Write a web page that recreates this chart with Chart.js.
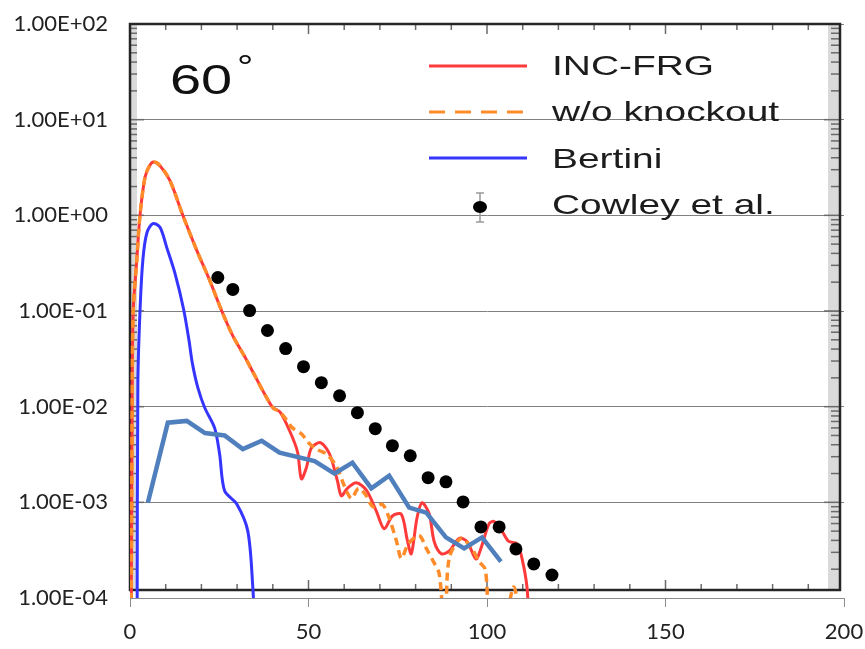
<!DOCTYPE html>
<html>
<head>
<meta charset="utf-8">
<script src="https://cdn.jsdelivr.net/npm/chart.js@4"></script>
<style>
  html, body { margin: 0; padding: 0; background: #fff; }
  #wrap { width: 865px; height: 649px; }
</style>
</head>
<body>
<div id="wrap"><canvas id="c" width="865" height="649"></canvas></div>
<script>
// values (x: energy, y: cross section)
const incX = [0.3, 0.45, 0.6, 0.9, 1.9, 2.8, 4.2, 5.5, 6.6, 8.4, 11.2, 14.8, 18.7, 22.3, 25.7, 28.8, 32, 35, 37.5, 40, 42, 44.7, 46.9, 48, 49.4, 50.8, 53.4, 55.9, 58.1, 59.2, 60.9, 63.4, 66.2, 69, 71.2, 73.5, 76, 77.7, 78.8, 80.4, 81.8, 83.8, 85.2, 87.2, 89.4, 92.2, 94.4, 96.9, 98.3, 100.6, 102, 104.2, 106.1, 108.4, 109.8, 111.2, 111.8]
const incY = [0.00005, 0.0005, 0.01, 0.1, 0.34, 1.0, 2.5, 3.3, 3.6, 3.3, 2.3, 1.0, 0.43, 0.21, 0.1, 0.055, 0.034, 0.021, 0.014, 0.0098, 0.0088, 0.0056, 0.0034, 0.00176, 0.0023, 0.0037, 0.0042, 0.0032, 0.00168, 0.00117, 0.0014, 0.0016, 0.00134, 0.00081, 0.00053, 0.00072, 0.00075, 0.0004, 0.00029, 0.00069, 0.00099, 0.00076, 0.00039, 0.00029, 0.00031, 0.00042, 0.00039, 0.000256, 0.00033, 0.0006, 0.00063, 0.0005, 0.00039, 0.00037, 0.00026, 0.00013, 0.00005]

const woX = [0.3, 0.45, 0.6, 0.9, 1.9, 2.8, 4.2, 5.5, 6.6, 8.4, 11.2, 14.8, 18.7, 22.3, 25.7, 28.8, 32, 35, 37.5, 40, 42, 43.8, 45.5, 48, 50, 52.2, 55, 57.8, 60, 62, 64, 66, 68, 70.7, 72.5, 74.6, 76, 78, 81, 83, 85, 86.6, 87.8, 88.4, 89.4, 92.7, 95.5, 97.8, 99.5, 100.8, 104, 107.5, 109.5]
const woY = [0.00005, 0.0005, 0.01, 0.1, 0.34, 1.0, 2.5, 3.3, 3.6, 3.3, 2.3, 1.0, 0.43, 0.21, 0.1, 0.055, 0.034, 0.021, 0.014, 0.0098, 0.0088, 0.0073, 0.006, 0.0052, 0.0042, 0.0036, 0.0032, 0.0024, 0.0015, 0.0011, 0.0014, 0.0012, 0.0009, 0.00095, 0.0007, 0.0004, 0.00026, 0.00037, 0.00045, 0.00033, 0.00024, 0.00018, 0.00006, 0.00006, 0.00026, 0.00042, 0.00034, 0.00024, 0.0002, 0.00006, 0.00004, 0.00013, 0.00004]

const bertX = [2.0, 2.2, 2.8, 3.6, 4.7, 6.4, 8.4, 10.3, 12.6, 15.0, 16.5, 17.5, 19.0, 20.9, 23.7, 25.1, 26.5, 29.9, 33.0, 34.4, 34.9]
const bertY = [0.00005, 0.0174, 0.1, 0.34, 0.65, 0.82, 0.75, 0.46, 0.247, 0.105, 0.05, 0.028, 0.0158, 0.0098, 0.006, 0.0032, 0.00132, 0.00096, 0.0005, 0.00013, 0.00005]

const steelX = [5.0, 10.6, 15.9, 21.0, 26.5, 31.6, 36.9, 41.9, 51.7, 57.3, 62.3, 67.6, 72.6, 78.2, 83.0, 88.5, 93.6, 98.6, 103.9]
const steelY = [0.00099, 0.0068, 0.0071, 0.0053, 0.0050, 0.0036, 0.0044, 0.0033, 0.0027, 0.0020, 0.0026, 0.0014, 0.0019, 0.00088, 0.00078, 0.00043, 0.00033, 0.00043, 0.00024]

const cowX = [24.6, 28.8, 33.5, 38.5, 43.6, 48.6, 53.6, 58.7, 63.7, 68.7, 73.5, 78.5, 83.5, 88.5, 93.3, 98.3, 103.4, 108.1, 113.1, 118.2]
const cowY = [0.224, 0.168, 0.101, 0.0625, 0.0405, 0.0262, 0.0178, 0.0130, 0.00865, 0.00589, 0.00391, 0.00307, 0.00181, 0.00164, 0.00101, 0.000553, 0.000553, 0.000326, 0.000227, 0.000174]

const xTicks = [0, 50, 100, 150, 200]
const yTicks = [1e-4, 1e-3, 1e-2, 1e-1, 1, 10, 100]

const RED = '#ff3a3a', ORANGE = '#ff8c2a', BLUE = '#3535ff', STEEL = '#4f7fbc'

const pairs = (xs, ys) => xs.map((x, i) => ({x, y: ys[i]}))

function sci(v) {
  const e = Math.round(Math.log10(v))
  const m = (v / Math.pow(10, e)).toFixed(2)
  return m + 'E' + (e < 0 ? '-' : '+') + String(Math.abs(e)).padStart(2, '0')
}

function line(ctx, x1, y1, x2, y2) {
  ctx.beginPath(); ctx.moveTo(x1, y1); ctx.lineTo(x2, y2); ctx.stroke()
}

function stretchedText(ctx, text, x, y, font, sx) {
  ctx.save()
  ctx.translate(x, y)
  ctx.scale(sx, 1)
  ctx.font = font
  ctx.fillText(text, 0, 0)
  ctx.restore()
}

// frame of the pasted plot, its title and legend
const panel = {
  id: 'panel',
  beforeDatasetsDraw(chart) {
    const {ctx} = chart
    const xs = chart.scales.x, ys = chart.scales.y
    const L = 130, T = 24, R = 840, B = 590
    ctx.save()
    ctx.fillStyle = 'rgba(150,150,150,0.35)'
    ctx.fillRect(R - 12, T, 12, B - T)
    ctx.fillRect(L, T, 7, B - T)
    ctx.strokeStyle = '#6a6a6a'
    ctx.lineWidth = 1.5
    for (let e = -4; e < 2; e++) {
      for (let m = 1; m < 10; m++) {
        const py = ys.getPixelForValue(m * Math.pow(10, e))
        if (py > B || py < T) continue
        const len = m === 1 ? 16 : 9
        line(ctx, R - len, py, R, py)
        line(ctx, L, py, L + len - 2, py)
      }
    }
    for (let v = 10; v < 200; v += 10) {
      const px = xs.getPixelForValue(v)
      if (px >= R - 4) break
      const len = v % 50 === 0 ? 10 : 6
      line(ctx, px, T, px, T + len)
      line(ctx, px, B, px, B - len)
    }
    ctx.strokeStyle = '#262626'
    ctx.lineWidth = 2.5
    ctx.strokeRect(L, T, R - L, B - T)

    // title
    ctx.fillStyle = '#111'
    stretchedText(ctx, '60', 170, 94, '43px "Liberation Sans"', 1.3)
    stretchedText(ctx, '°', 237, 78, '34px "Liberation Sans"', 1.2)

    // legend
    const lx1 = 429, lx2 = 527, tx = 552
    ctx.lineWidth = 3
    ctx.strokeStyle = RED
    line(ctx, lx1, 66, lx2, 66)
    ctx.strokeStyle = ORANGE
    ctx.setLineDash([16, 10])
    line(ctx, lx1, 112, lx2, 112)
    ctx.setLineDash([])
    ctx.strokeStyle = BLUE
    line(ctx, lx1, 158, lx2, 158)
    ctx.strokeStyle = '#999'
    ctx.lineWidth = 1.5
    line(ctx, 480, 193, 480, 222)
    line(ctx, 476, 193, 484, 193)
    line(ctx, 476, 222, 484, 222)
    ctx.fillStyle = '#000'
    ctx.beginPath(); ctx.ellipse(480, 207, 7, 6, 0, 0, Math.PI * 2); ctx.fill()
    ctx.fillStyle = '#1c1c1c'
    const f = '28px "Liberation Sans"'
    stretchedText(ctx, 'INC-FRG', tx, 75, f, 1.39)
    stretchedText(ctx, 'w/o knockout', tx, 121, f, 1.39)
    stretchedText(ctx, 'Bertini', tx, 168, f, 1.39)
    stretchedText(ctx, 'Cowley et al.', tx, 214, f, 1.39)
    ctx.restore()
  }
}

const tickFont = {family: 'Lato', size: 22}

new Chart(document.getElementById('c'), {
  type: 'line',
  data: {
    datasets: [
      {label: 'Cowley et al.', data: pairs(cowX, cowY), showLine: false, pointRadius: 6.5,
       pointBackgroundColor: '#000', pointBorderWidth: 0, order: 0},
      {label: 'excel', data: pairs(steelX, steelY), borderColor: STEEL, borderWidth: 4.5,
       tension: 0, order: 1},
      {label: 'w/o knockout', data: pairs(woX, woY), borderColor: ORANGE, borderWidth: 3.5,
       borderDash: [8, 5], tension: 0.3, order: 2},
      {label: 'Bertini', data: pairs(bertX, bertY), borderColor: BLUE, borderWidth: 3,
       tension: 0.3, order: 3},
      {label: 'INC-FRG', data: pairs(incX, incY), borderColor: RED, borderWidth: 3,
       tension: 0.3, order: 4}
    ]
  },
  options: {
    responsive: false,
    animation: false,
    layout: {padding: {top: 24, right: 21, left: 0, bottom: 0}},
    elements: {point: {radius: 0}},
    plugins: {legend: {display: false}, tooltip: {enabled: false}},
    scales: {
      x: {
        type: 'linear', min: 0, max: 200,
        afterBuildTicks: s => { s.ticks = xTicks.map(v => ({value: v})) },
        afterFit: s => { s.height = 649 - 598; s.paddingLeft = 0; s.paddingRight = 0 },
        grid: {drawOnChartArea: false, tickLength: 9, color: '#8c8c8c'},
        border: {color: '#8c8c8c'},
        ticks: {padding: 12, maxRotation: 0, color: '#222', font: tickFont}
      },
      y: {
        type: 'logarithmic', min: 1e-4, max: 100,
        afterBuildTicks: s => { s.ticks = yTicks.map(v => ({value: v, major: true})) },
        afterFit: s => { s.width = 130; s.paddingTop = 0; s.paddingBottom = 0 },
        grid: {color: '#808080', drawTicks: false},
        border: {color: '#8c8c8c'},
        ticks: {padding: 22, color: '#222', font: tickFont, callback: v => sci(v)}
      }
    }
  },
  plugins: [panel]
})
</script>
</body>
</html>
